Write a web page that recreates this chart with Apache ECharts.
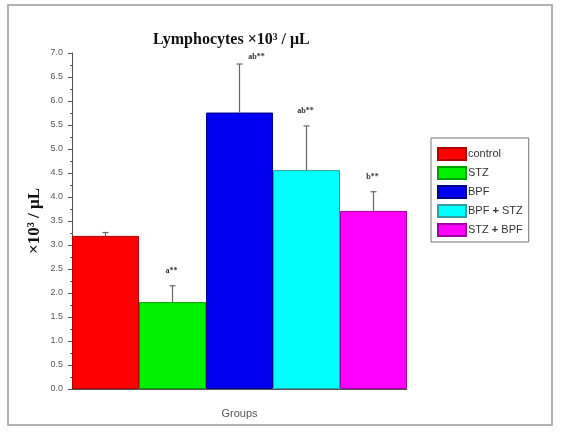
<!DOCTYPE html>
<html>
<head>
<meta charset="utf-8">
<script src="https://cdn.jsdelivr.net/npm/echarts@6/dist/echarts.min.js"></script>
<style>
  html, body { margin: 0; padding: 0; background: #fff; }
  #chart { width: 563px; height: 433px; }
</style>
</head>
<body>
<div id="chart"></div>
<script>
// Lymphocyte counts per group (mean and standard deviation, x10^3 / µL)
var groups = ['control', 'STZ', 'BPF', 'BPF + STZ', 'STZ + BPF'];
var means = [3.19, 1.81, 5.76, 4.56, 3.71];
var errors = [0.07, 0.34, 1.01, 0.92, 0.40];
var marks = ['', 'a**', 'ab**', 'ab**', 'b**'];
var colors = ['#ff0000', '#00f000', '#0000f0', '#00ffff', '#ff00ff'];
var borders = ['#b00000', '#00a000', '#000090', '#30a0a0', '#a000a0'];
var yTicks = { min: 0, max: 7, interval: 0.5 };

var chart = echarts.init(document.getElementById('chart'), null, { renderer: 'canvas' });

// one series per group so each gets its own legend entry; stacking keeps them in one slot
var barSeries = groups.map(function (g, i) {
  return {
    name: g,
    type: 'bar',
    stack: 'groups',
    barWidth: '100%',
    itemStyle: { color: colors[i], borderColor: borders[i], borderWidth: 1 },
    data: groups.map(function (_, j) { return j === i ? means[i] : '-'; })
  };
});

// error bars (upper half only) with significance letters
var labelShift = { 2: [17, -7] };
var errorSeries = {
  type: 'custom',
  silent: true,
  z: 5,
  data: groups.map(function (_, i) { return [i, means[i], means[i] + errors[i], marks[i]]; }),
  renderItem: function (params, api) {
    var i = api.value(0);
    var base = api.coord([i, api.value(1)]);
    var top = api.coord([i, api.value(2)]);
    var children = [
      { type: 'line', shape: { x1: base[0], y1: base[1], x2: top[0], y2: top[1] },
        style: { stroke: '#666', lineWidth: 1.2 } },
      { type: 'line', shape: { x1: top[0] - 3, y1: top[1], x2: top[0] + 3, y2: top[1] },
        style: { stroke: '#666', lineWidth: 1.2 } }
    ];
    var txt = marks[i];
    if (txt) {
      var sh = labelShift[i] || [-1, -15];
      children.push({ type: 'text', style: {
        x: top[0] + sh[0], y: top[1] + sh[1], text: txt, align: 'center', verticalAlign: 'middle',
        fill: '#333', font: 'bold 8px "Liberation Serif", serif' } });
    }
    return { type: 'group', children: children };
  }
};

var option = {
  animation: false,
  backgroundColor: '#fff',
  title: {
    text: 'Lymphocytes ×10³ / μL',
    left: 148, top: 27,
    textStyle: { fontFamily: '"Liberation Serif", serif', fontWeight: 'bold', fontSize: 16, color: '#111' }
  },
  legend: {
    orient: 'vertical',
    left: 431, top: 138,
    padding: [9, 6, 5, 6],
    itemGap: 5,
    itemWidth: 28, itemHeight: 12,
    icon: 'rect',
    borderColor: '#777', borderWidth: 1,
    data: groups,
    formatter: function (n) { return n.replace(' + ', ' {p|+} '); },
    textStyle: {
      fontFamily: '"Liberation Sans", sans-serif', fontSize: 11, color: '#333',
      padding: [0, 0, 0, -3],
      rich: { p: { fontWeight: 'bold', fontSize: 11, color: '#333' } }
    }
  },
  grid: { left: 72, right: 156, top: 53, bottom: 44 },
  xAxis: {
    type: 'category',
    data: groups,
    name: 'Groups',
    nameLocation: 'middle',
    nameGap: 19,
    nameTextStyle: { fontFamily: '"Liberation Sans", sans-serif', fontSize: 11, color: '#555' },
    axisLine: { lineStyle: { color: '#555', width: 1 } },
    axisTick: { alignWithLabel: true, length: 5, lineStyle: { color: '#555' } },
    axisLabel: { show: false },
    splitLine: { show: false }
  },
  yAxis: {
    type: 'value',
    min: yTicks.min, max: yTicks.max, interval: yTicks.interval,
    name: '×10³ / μL',
    nameLocation: 'middle',
    nameRotate: 90,
    nameGap: 29,
    nameMoveOverlap: false,
    nameTextStyle: { fontFamily: '"Liberation Serif", serif', fontWeight: 'bold', fontSize: 17, color: '#111' },
    axisLine: { show: true, lineStyle: { color: '#555', width: 1 } },
    axisTick: { show: true, length: 4, lineStyle: { color: '#555' } },
    minorTick: { show: true, splitNumber: 2, length: 2, lineStyle: { color: '#555' } },
    axisLabel: {
      margin: 9,
      fontFamily: '"Liberation Sans", sans-serif', fontSize: 9, color: '#555',
      formatter: function (v) { return v.toFixed(1); }
    },
    splitLine: { show: false }
  },
  graphic: [{
    type: 'rect', silent: true, z: -1,
    shape: { x: 8, y: 5, width: 544, height: 420 },
    style: { fill: null, stroke: '#999', lineWidth: 1.5 }
  }],
  series: barSeries.concat([errorSeries])
};

chart.setOption(option);
</script>
</body>
</html>
